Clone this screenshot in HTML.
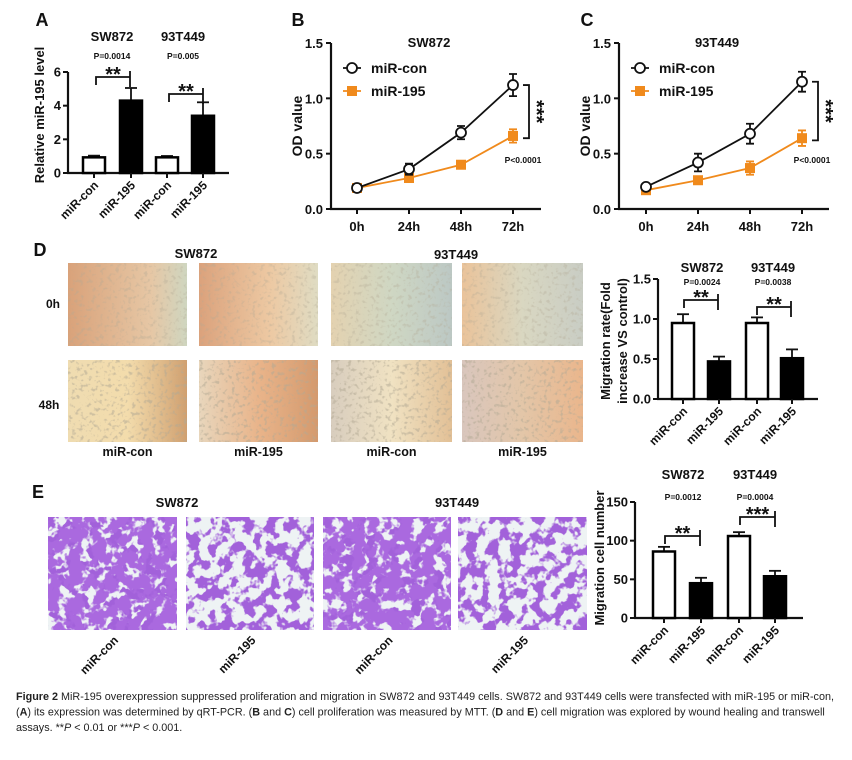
<!DOCTYPE html>
<html><head><meta charset="utf-8"><style>
html,body{margin:0;padding:0;background:#fff}
svg{display:block;font-family:"Liberation Sans",Arial,sans-serif}
</style></head><body>
<svg id="fig" width="852" height="760" viewBox="0 0 852 760" xmlns="http://www.w3.org/2000/svg">
<defs>
<filter id="stain" x="0" y="0" width="100%" height="100%">
<feTurbulence type="fractalNoise" baseFrequency="0.085" numOctaves="3" seed="4" result="n"/>
<feColorMatrix in="n" type="matrix" values="0 0 0 0 0.40  0 0 0 0 0.14  0 0 0 0 0.74  11 0 0 0 -4.6"/>
</filter>
<filter id="stain2" x="0" y="0" width="100%" height="100%">
<feTurbulence type="fractalNoise" baseFrequency="0.09" numOctaves="3" seed="9" result="n"/>
<feColorMatrix in="n" type="matrix" values="0 0 0 0 0.36  0 0 0 0 0.12  0 0 0 0 0.70  11 0 0 0 -5.2"/>
</filter>
<filter id="cells" x="0" y="0" width="100%" height="100%">
<feTurbulence type="fractalNoise" baseFrequency="0.25" numOctaves="2" seed="2" result="n"/>
<feColorMatrix in="n" type="matrix" values="0 0 0 0 0.45  0 0 0 0 0.4  0 0 0 0 0.3  5 0 0 0 -2.7"/>
</filter>
<linearGradient id="g1" x1="0" x2="1"><stop offset="0" stop-color="#d9a27a"/><stop offset="0.7" stop-color="#e6c7a5"/><stop offset="1" stop-color="#cfd6c0"/></linearGradient>
<linearGradient id="g2" x1="0" x2="1"><stop offset="0" stop-color="#dba27c"/><stop offset="0.6" stop-color="#edc9a3"/><stop offset="1" stop-color="#dfdcc3"/></linearGradient>
<linearGradient id="g3" x1="0" x2="1"><stop offset="0" stop-color="#e4d2b0"/><stop offset="0.5" stop-color="#cfd7c3"/><stop offset="1" stop-color="#bcc8c4"/></linearGradient>
<linearGradient id="g4" x1="0" x2="1"><stop offset="0" stop-color="#eac39a"/><stop offset="0.5" stop-color="#d9d7c1"/><stop offset="1" stop-color="#c9cdc4"/></linearGradient>
<linearGradient id="g5" x1="0" x2="1"><stop offset="0" stop-color="#efdcb1"/><stop offset="0.5" stop-color="#f3dcac"/><stop offset="1" stop-color="#d0a070"/></linearGradient>
<linearGradient id="g6" x1="0" x2="1"><stop offset="0" stop-color="#e8d6bc"/><stop offset="0.5" stop-color="#e9b48a"/><stop offset="1" stop-color="#d49a6e"/></linearGradient>
<linearGradient id="g7" x1="0" x2="1"><stop offset="0" stop-color="#d8cdbe"/><stop offset="0.5" stop-color="#f0e2c2"/><stop offset="1" stop-color="#e2c096"/></linearGradient>
<linearGradient id="g8" x1="0" x2="1"><stop offset="0" stop-color="#d9c6bd"/><stop offset="0.5" stop-color="#e3c6a8"/><stop offset="1" stop-color="#eab68c"/></linearGradient>
</defs>
<g id="root"></g>
</svg>
<script>
// ---------- Panel A data ----------
const aCategories = ["miR-con","miR-195","miR-con","miR-195"];
const aValues = [0.93, 4.3, 0.93, 3.4];
const aErrors = [0.1, 0.75, 0.08, 0.8];
const aTicks = [0, 2, 4, 6];
// ---------- Panel B / C data ----------
const timeLabels = ["0h","24h","48h","72h"];
const odTicks = [0.0, 0.5, 1.0, 1.5];
const bCon = [0.19, 0.36, 0.69, 1.12];
const bConErr = [0.02, 0.05, 0.06, 0.1];
const b195 = [0.19, 0.28, 0.40, 0.66];
const b195Err = [0.02, 0.02, 0.02, 0.06];
const cCon = [0.20, 0.42, 0.68, 1.15];
const cConErr = [0.02, 0.08, 0.09, 0.09];
const c195 = [0.17, 0.26, 0.37, 0.64];
const c195Err = [0.02, 0.03, 0.06, 0.07];
// ---------- Panel D data ----------
const dValues = [0.95, 0.47, 0.95, 0.51];
const dErrors = [0.11, 0.06, 0.07, 0.11];
const dTicks = [0.0, 0.5, 1.0, 1.5];
// ---------- Panel E data ----------
const eValues = [86, 45, 106, 54];
const eErrors = [6, 7, 5, 7];
const eTicks = [0, 50, 100, 150];

const NS = "http://www.w3.org/2000/svg";
const root = document.getElementById('root');
function el(tag, attrs, parent, text){
  const e = document.createElementNS(NS, tag);
  for (const k in attrs) e.setAttribute(k, attrs[k]);
  if (text !== undefined) e.textContent = text;
  (parent || root).appendChild(e);
  return e;
}
function txt(x,y,s,size,opts,name){
  const t = el('text',Object.assign({x:x,y:y,'font-size':size,'font-weight':'bold','text-anchor':'middle',fill:'#111'},opts||{}),null,s);
  
  
  return t;
}

// ---------- bar chart ----------
function barChart(p, values, errors, ticks, pre){
  const g = el('g',{});
  
  
  const ymax = ticks[ticks.length-1];
  const Y = v => p.y0 - v/ymax*(p.y0-p.yTop);
  el('line',{x1:p.ax,y1:p.yTop,x2:p.ax,y2:p.y0+1,stroke:'#111','stroke-width':2.2},g);
  el('line',{x1:p.ax-1,y1:p.y0,x2:p.xEnd,y2:p.y0,stroke:'#111','stroke-width':2.2},g);
  ticks.forEach(t=>{
    const y = Y(t);
    el('line',{x1:p.ax-5,y1:y,x2:p.ax,y2:y,stroke:'#111','stroke-width':2},g);
    const lab = el('text',{x:p.ax-7,y:y+4.5,'font-size':13,'font-weight':'bold','text-anchor':'end',fill:'#111'},g,p.fmt(t));
    
    
  });
  values.forEach((v,i)=>{
    const cx = p.centers[i], w = p.bw;
    const top = Y(v), etop = Y(v+errors[i]);
    el('line',{x1:cx,y1:top,x2:cx,y2:etop,stroke:'#111','stroke-width':1.8},g);
    el('line',{x1:cx-6,y1:etop,x2:cx+6,y2:etop,stroke:'#111','stroke-width':1.8},g);
    const r = el('rect',{x:cx-w/2+1,y:top,width:w-2,height:p.y0-top,fill:i%2?'#000':'#fff',stroke:'#000','stroke-width':2.5},g);
    
    
    el('line',{x1:cx,y1:p.y0,x2:cx,y2:p.y0+5,stroke:'#111','stroke-width':2},g);
    const lab = el('text',{x:0,y:0,'font-size':p.lfs||12,'font-weight':'bold','text-anchor':'end',fill:'#111',
      transform:`translate(${cx+5},${p.y0+13}) rotate(-45)`},g,aCategories[i]);
    
    
  });
  return Y;
}
function bracket(x1,x2,y,stars,fs,name){
  const g = el('g',{});
  
  
  el('path',{d:`M${x1},${y+8} V${y} H${x2} M${x2},${y-6} V${y+10}`,stroke:'#111','stroke-width':1.8,fill:'none'},g);
  el('text',{x:(x1+x2)/2,y:y+4,'font-size':fs||20,'font-weight':'bold','text-anchor':'middle',fill:'#111'},g,stars);
}

// ===== Panel A =====
txt(42,26,"A",18,{},'panel-a-label');
txt(112,41,"SW872",13,{},'panel-a-title-sw872');
txt(183,41,"93T449",13,{},'panel-a-title-93t449');
txt(112,59,"P=0.0014",8.5,{},'panel-a-p-sw872');
txt(183,59,"P=0.005",8.5,{},'panel-a-p-93t449');
txt(0,0,"Relative miR-195 level",13,{transform:'translate(44,115) rotate(-90)'},'panel-a-y-axis-title');
barChart({ax:68,y0:173,yTop:72,xEnd:229,centers:[94,131,167,203],bw:24,fmt:t=>String(t),lfs:12},aValues,aErrors,aTicks,'panel-a');
bracket(96,130,77,"**",20,'panel-a-sig-sw872');
bracket(169,203,94,"**",20,'panel-a-sig-93t449');

// ===== Line charts =====
function lineChart(p, con, conErr, r195, r195Err, title, pre){
  const g = el('g',{});
  
  
  const Y = v => p.y0 - v/1.5*(p.y0-p.yTop);
  const X = i => p.x0 + i*p.dx;
  el('line',{x1:p.ax,y1:p.yTop,x2:p.ax,y2:p.y0+1,stroke:'#111','stroke-width':2.2},g);
  el('line',{x1:p.ax-1,y1:p.y0,x2:p.ax+210,y2:p.y0,stroke:'#111','stroke-width':2.2},g);
  odTicks.forEach(t=>{
    el('line',{x1:p.ax-5,y1:Y(t),x2:p.ax,y2:Y(t),stroke:'#111','stroke-width':2},g);
    const l = el('text',{x:p.ax-8,y:Y(t)+5,'font-size':13,'font-weight':'bold','text-anchor':'end',fill:'#111'},g,t.toFixed(1));
    
    
  });
  timeLabels.forEach((t,i)=>{
    el('line',{x1:X(i),y1:p.y0,x2:X(i),y2:p.y0+5,stroke:'#111','stroke-width':2},g);
    const l = el('text',{x:X(i),y:p.y0+22,'font-size':13,'font-weight':'bold','text-anchor':'middle',fill:'#111'},g,t);
    
    
  });
  const yt = el('text',{x:0,y:0,'font-size':14,'font-weight':'bold','text-anchor':'middle',fill:'#111',transform:`translate(${p.ax-29},${(p.y0+p.yTop)/2}) rotate(-90)`},g,"OD value");
  
  
  const tt = el('text',{x:p.ax+98,y:47,'font-size':13,'font-weight':'bold','text-anchor':'middle',fill:'#111'},g,title);
  
  
  const o = '#f08a1c';
  const pl1 = el('polyline',{points:r195.map((v,i)=>X(i)+','+Y(v)).join(' '),fill:'none',stroke:o,'stroke-width':1.8},g);
  
  
  r195.forEach((v,i)=>{
    el('path',{d:`M${X(i)-4},${Y(v+r195Err[i])} h8 M${X(i)},${Y(v+r195Err[i])} V${Y(v-r195Err[i])} M${X(i)-4},${Y(v-r195Err[i])} h8`,stroke:o,'stroke-width':1.8},g);
    const m = el('rect',{x:X(i)-5,y:Y(v)-5,width:10,height:10,fill:o},g);
    
    
  });
  const pl2 = el('polyline',{points:con.map((v,i)=>X(i)+','+Y(v)).join(' '),fill:'none',stroke:'#111','stroke-width':1.8},g);
  
  
  con.forEach((v,i)=>{
    el('path',{d:`M${X(i)-4},${Y(v+conErr[i])} h8 M${X(i)},${Y(v+conErr[i])} V${Y(v-conErr[i])} M${X(i)-4},${Y(v-conErr[i])} h8`,stroke:'#111','stroke-width':1.8},g);
    const m = el('circle',{cx:X(i),cy:Y(v),r:5,fill:'#fff',stroke:'#111','stroke-width':1.8},g);
    
    
  });
  const lg = el('g',{},g);
  
  
  el('line',{x1:p.ax+12,y1:68,x2:p.ax+30,y2:68,stroke:'#111','stroke-width':1.8},lg);
  el('circle',{cx:p.ax+21,cy:68,r:5,fill:'#fff',stroke:'#111','stroke-width':1.8},lg);
  el('text',{x:p.ax+40,y:73,'font-size':14,'font-weight':'bold',fill:'#111'},lg,"miR-con");
  el('line',{x1:p.ax+12,y1:91,x2:p.ax+30,y2:91,stroke:o,'stroke-width':1.8},lg);
  el('rect',{x:p.ax+16,y:86,width:10,height:10,fill:o},lg);
  el('text',{x:p.ax+40,y:96,'font-size':14,'font-weight':'bold',fill:'#111'},lg,"miR-195");
  const bx = X(3)+16, y1 = Y(con[3]), y2 = Y(r195[3]-0.02);
  el('path',{d:`M${bx-6},${y1} H${bx} V${y2} H${bx-6}`,stroke:'#111','stroke-width':1.8,fill:'none'},g);
  const st = el('text',{x:0,y:0,'font-size':20,'font-weight':'bold','text-anchor':'middle',fill:'#111',transform:`translate(${bx+1},${(y1+y2)/2}) rotate(90)`},g,"***");
  
  
  const pv = el('text',{x:X(3)+10,y:163,'font-size':8.5,'font-weight':'bold','text-anchor':'middle',fill:'#111'},g,"P<0.0001");
  
  
}
txt(298,26,"B",18,{},'panel-b-label');
lineChart({ax:331,y0:209,yTop:43,x0:357,dx:52},bCon,bConErr,b195,b195Err,"SW872",'panel-b');
txt(587,26,"C",18,{},'panel-c-label');
lineChart({ax:619,y0:209,yTop:43,x0:646,dx:52},cCon,cConErr,c195,c195Err,"93T449",'panel-c');

// ===== Panel D images =====
txt(40,256,"D",18,{},'panel-d-label');
txt(196,258,"SW872",13,{},'panel-d-title-sw872');
txt(456,259,"93T449",13,{},'panel-d-title-93t449');
txt(53,308,"0h",12,{},'row-label-0h');
txt(49,409,"48h",12,{},'row-label-48h');
const dCols = [[68,187],[199,318],[331,452],[462,583]];
const dLabels = ["miR-con","miR-195","miR-con","miR-195"];
dCols.forEach((c,i)=>{
  [[263,346],[360,442]].forEach((r,j)=>{
    const gid = 'g'+(j*4+i+1);
    const im = el('rect',{x:c[0],y:r[0],width:c[1]-c[0],height:r[1]-r[0],fill:`url(#${gid})`});
    
    
    el('rect',{x:c[0],y:r[0],width:c[1]-c[0],height:r[1]-r[0],filter:'url(#cells)',opacity:j?0.55:0.35});
  });
  txt((c[0]+c[1])/2,456,dLabels[i],12.5,{},'panel-d-image-label');
});
txt(0,0,"Migration rate(Fold",13,{transform:'translate(610,341) rotate(-90)'},'panel-d-y-axis-title-1');
txt(0,0,"increase VS control)",13,{transform:'translate(627,341) rotate(-90)'},'panel-d-y-axis-title-2');
txt(702,272,"SW872",13,{},'panel-d-chart-title-sw872');
txt(773,272,"93T449",13,{},'panel-d-chart-title-93t449');
txt(702,285,"P=0.0024",8.5,{},'panel-d-p-sw872');
txt(773,285,"P=0.0038",8.5,{},'panel-d-p-93t449');
barChart({ax:658,y0:399,yTop:279,xEnd:818,centers:[683,719,757,792],bw:24,fmt:t=>t.toFixed(1),lfs:12},dValues,dErrors,dTicks,'panel-d');
bracket(684,718,300,"**",20,'panel-d-sig-sw872');
bracket(757,791,307,"**",20,'panel-d-sig-93t449');

// ===== Panel E images =====
txt(38,498,"E",18,{},'panel-e-label');
txt(177,507,"SW872",13,{},'panel-e-title-sw872');
txt(457,507,"93T449",13,{},'panel-e-title-93t449');
const eCols = [[48,177],[186,314],[323,451],[458,587]];
eCols.forEach((c,i)=>{
  const im = el('rect',{x:c[0],y:517,width:c[1]-c[0],height:113,fill:'#eef3f4'});
  
  
  el('rect',{x:c[0],y:517,width:c[1]-c[0],height:113,filter:'url(#stain2)'});
  if(i%2===0) el('rect',{x:c[0],y:517,width:c[1]-c[0],height:113,filter:'url(#stain)'});
  const l = el('text',{x:0,y:0,'font-size':12,'font-weight':'bold','text-anchor':'end',fill:'#111',transform:`translate(${c[0]+(c[1]-c[0])*0.55},${641}) rotate(-45)`},null,dLabels[i]);
  
  
});
txt(0,0,"Migration cell number",13,{transform:'translate(604,558) rotate(-90)'},'panel-e-y-axis-title');
txt(683,479,"SW872",13,{},'panel-e-chart-title-sw872');
txt(755,479,"93T449",13,{},'panel-e-chart-title-93t449');
txt(683,500,"P=0.0012",8.5,{},'panel-e-p-sw872');
txt(755,500,"P=0.0004",8.5,{},'panel-e-p-93t449');
barChart({ax:635,y0:618,yTop:502,xEnd:803,centers:[664,701,739,775],bw:24,fmt:t=>String(t),lfs:12},eValues,eErrors,eTicks,'panel-e');
bracket(665,700,536,"**",20,'panel-e-sig-sw872');
bracket(740,775,517,"***",20,'panel-e-sig-93t449');

// ===== Caption =====
const cap = el('text',{x:16,y:700,'font-size':10.8,fill:'#222',textLength:0});
cap.removeAttribute('textLength');


const lines = [
 [["Figure 2",1]," MiR-195 overexpression suppressed proliferation and migration in SW872 and 93T449 cells. SW872 and 93T449 cells were transfected with miR-195 or miR-con,"],
 ["(",["A",1],") its expression was determined by qRT-PCR. (",["B",1]," and ",["C",1],") cell proliferation was measured by MTT. (",["D",1]," and ",["E",1],") cell migration was explored by wound healing and transwell"],
 ["assays. **",["P",2]," < 0.01 or ***",["P",2]," < 0.001."]
];
lines.forEach((ln,li)=>{
  ln.forEach((seg,si)=>{
    const a = {};
    if(si===0){a.x=16;a.dy=li?15.5:0;}
    if(Array.isArray(seg)){ if(seg[1]===1)a['font-weight']='bold'; else a['font-style']='italic'; el('tspan',a,cap,seg[0]); }
    else el('tspan',a,cap,seg);
  });
});
</script>
</body></html>
